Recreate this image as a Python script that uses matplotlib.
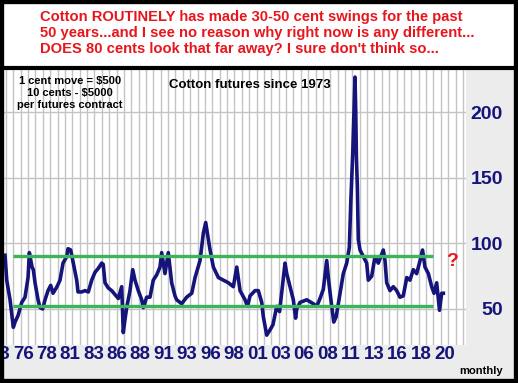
import matplotlib
matplotlib.use('Agg')
import matplotlib.pyplot as plt
import matplotlib.transforms as mtransforms
from matplotlib.patches import Rectangle
from matplotlib.lines import Line2D
import numpy as np

plt.rcParams['font.family'] = 'Liberation Sans'

# monthly cotton futures (cents/lb)
years = [1974.09, 1974.27, 1974.62, 1974.97, 1975.15, 1975.47, 1975.86, 1976.21, 1976.53, 1976.67,
         1976.95, 1977.09, 1977.27, 1977.59, 1977.80, 1978.08, 1978.33, 1978.65, 1978.93, 1979.18,
         1979.60, 1979.92, 1980.24, 1980.63, 1980.77, 1981.05, 1981.30, 1981.69, 1981.83, 1982.22,
         1982.57, 1982.92, 1983.28, 1983.63, 1983.98, 1984.34, 1984.50, 1984.69, 1985.04, 1985.40,
         1985.75, 1986.10, 1986.46, 1986.63, 1986.81, 1986.99, 1987.34, 1987.63, 1987.87, 1988.22,
         1988.58, 1988.75, 1989.11, 1989.46, 1989.81, 1990.17, 1990.52, 1990.70, 1991.05, 1991.40,
         1991.76, 1992.11, 1992.29, 1992.82, 1993.35, 1993.89, 1994.24, 1994.77, 1995.12, 1995.37,
         1995.54, 1995.83, 1996.18, 1996.71, 1997.24, 1997.77, 1998.30, 1998.66, 1999.01, 1999.54,
         1999.80, 2000.07, 2000.60, 2000.95, 2001.31, 2001.48, 2001.84, 2002.19, 2002.50, 2002.90,
         2003.20, 2003.60, 2003.78, 2003.96, 2004.31, 2004.66, 2004.90, 2005.02, 2005.37, 2006.08,
         2006.78, 2007.14, 2007.49, 2007.84, 2008.20, 2008.40, 2008.73, 2008.95, 2009.20, 2009.61,
         2009.96, 2010.32, 2010.60, 2010.75, 2010.96, 2011.10, 2011.20, 2011.28, 2011.35, 2011.45,
         2011.55, 2011.73, 2012.08, 2012.44, 2012.61, 2012.97, 2013.32, 2013.67, 2014.20, 2014.38,
         2014.56, 2014.91, 2015.26, 2015.62, 2015.97, 2016.32, 2016.69, 2017.03, 2017.38, 2017.74,
         2018.10, 2018.36, 2018.62, 2018.98, 2019.33, 2019.58, 2019.86, 2020.16, 2020.39, 2020.57]
price = [91, 72, 57, 36, 40, 45, 55, 59, 74, 93,
         82, 80, 70, 57, 51, 50, 57, 64, 68, 62,
         67, 72, 85, 90, 96, 95, 86, 72, 63, 63,
         64, 63, 72, 78, 81, 85, 84, 70, 66, 64,
         61, 58, 67, 32, 42, 51, 64, 80, 72, 64,
         57, 51, 59, 59, 72, 76, 82, 93, 77, 93,
         70, 60, 57, 54, 59, 62, 74, 87, 108, 116,
         108, 95, 82, 74, 72, 70, 67, 82, 64, 57,
         52, 60, 64, 64, 55, 44, 30, 34, 38, 52,
         48, 74, 85, 77, 67, 57, 43, 50, 55, 57,
         54, 52, 58, 65, 87, 72, 52, 40, 44, 62,
         77, 85, 97, 131, 169, 202, 227, 200, 166, 143,
         103, 95, 90, 85, 72, 75, 90, 85, 95, 87,
         70, 64, 67, 64, 59, 60, 74, 72, 80, 77,
         87, 95, 82, 77, 67, 62, 70, 49, 62, 62]

band_levels = [90.5, 52]
band_start, band_end = 1974.9, 2019.5

x_labels = ['73', '76', '78', '81', '83', '86', '88', '91', '93', '96',
            '98', '01', '03', '06', '08', '11', '13', '16', '18', '20']
x_label_pos = 1973.56 + 2.48 * np.arange(len(x_labels))
y_ticks = [50, 100, 150, 200]

headline = ("Cotton ROUTINELY has made 30-50 cent swings for the past\n"
            "50 years...and I see no reason why right now is any different...\n"
            "DOES 80 cents look that far away? I sure don't think so...")

W, H = 518, 383
navy = '#14147a'
red = '#e8161c'
green = '#3cb45a'

fig = plt.figure(figsize=(W / 100, H / 100), dpi=100, facecolor='#ececec')

# white headline box
fig.add_artist(Rectangle((0, 1 - 68 / H), 1, 68 / H, transform=fig.transFigure,
                         facecolor='white', edgecolor='none', zorder=0))

ax = fig.add_axes([4 / W, 38 / H, 462 / W, 275 / H])
ax.set_facecolor('white')
ax.set_xlim(1973.98, 2022.97)
ax.set_ylim(22.5, 232.4)

# vertical grid every ~0.78 year, horizontal at the y ticks
ax.set_xticks(np.arange(1974.19, 2023, 0.7815))
ax.set_yticks(y_ticks)
ax.grid(True, color='#c4c4c4', lw=1)
ax.set_axisbelow(True)
ax.tick_params(axis='x', length=0, labelbottom=False)
ax.yaxis.tick_right()
ax.tick_params(axis='y', length=0, pad=26.5, labelsize=14, labelcolor=navy)
for t in ax.get_yticklabels():
    t.set_fontweight('bold')
    t.set_ha('right')
for s in ax.spines.values():
    s.set_visible(False)

ax.plot(years, price, color=navy, lw=2.6, zorder=3)
ax.hlines(band_levels, band_start, band_end, color=green, lw=2.4, zorder=4)

ax.text(2021.49, 86, '?', color=red, fontsize=14, fontweight='bold', ha='center', va='center')

trans = mtransforms.blended_transform_factory(ax.transData, ax.transAxes)
for xp, lab in zip(x_label_pos, x_labels):
    ax.text(xp, -0.033, lab, transform=trans, ha='center', va='center', fontsize=13.5,
            fontweight='bold', color=navy, clip_on=False)

ax.text(0.532, 0.945, 'Cotton futures since 1973', transform=ax.transAxes, ha='center',
        va='center', fontsize=9.5, fontweight='bold')
ax.text(0.143, 0.978, '1 cent move = $500\n10 cents - $5000\nper futures contract',
        transform=ax.transAxes, ha='center', va='top', fontsize=8, fontweight='bold',
        linespacing=1.25)

fig.text(40 / W, 1 - 10 / H, headline, ha='left', va='top', color=red, fontsize=10.6,
         fontweight='bold', linespacing=1.2)
fig.text(503 / W, 1 - 371 / H, 'monthly', ha='right', va='center', fontsize=8, fontweight='bold')

# separator and outer frame
fig.add_artist(Line2D([0, 1], [1 - 68 / H, 1 - 68 / H], transform=fig.transFigure,
                      color='black', lw=3))
fig.add_artist(Rectangle((0, 0), 1, 1, transform=fig.transFigure, fill=False,
                         edgecolor='black', lw=6, zorder=10))

fig.savefig('out.png', dpi=100, facecolor=fig.get_facecolor())
